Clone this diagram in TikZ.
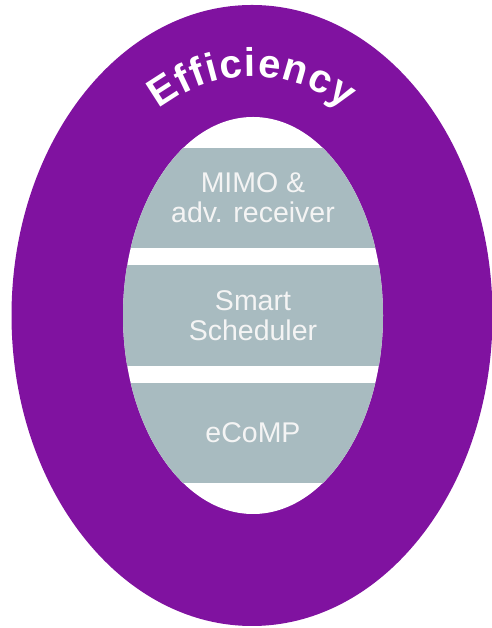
\documentclass[tikz,border=0pt]{standalone}
\usepackage{fontspec}
\setmainfont{Liberation Sans}
\definecolor{ringpurple}{RGB}{128,18,160}
\definecolor{bandgray}{RGB}{168,187,192}
\definecolor{labelwhite}{RGB}{244,244,244}
\tikzset{
  bandlabel/.style={text=labelwhite, align=center, inner sep=0pt,
    font=\fontsize{28.5}{30}\selectfont},
  bandfill/.style={fill=bandgray},
  titleletter/.style={text=white, inner sep=0pt, anchor=base,
    font=\bfseries\fontsize{40}{40}\selectfont}
}
\begin{document}
\begin{tikzpicture}[x=1pt,y=1pt]
  \useasboundingbox (0,0) rectangle (491,628);
  % outer ring and inner white core
  \fill[ringpurple] (252,312.5) ellipse [x radius=240.5, y radius=310.5];
  \fill[white] (253,312.5) ellipse [x radius=130, y radius=198.5];
  % three grey layers, trimmed to the core
  \begin{scope}
    \clip (253,312.5) ellipse [x radius=130, y radius=198.5];
    \fill[bandfill] (100,380) rectangle (400,480);
    \fill[bandfill] (100,262) rectangle (400,363);
    \fill[bandfill] (100,145) rectangle (400,245);
  \end{scope}
  \node[bandlabel] (mimo) at (253,430) {MIMO \&\\adv. receiver};
  \node[bandlabel] (sched) at (253,312.5) {Smart\\Scheduler};
  \node[bandlabel] (ecomp) at (253,195) {eCoMP};
  % curved title: each letter sits on an ellipse and follows its tangent
  \begin{scope}[shift={(252,312.5)}]
    \foreach \t/\r/\ch [count=\k] in {
        116.43/32.70/E, 110.18/25.40/f, 105.73/19.99/f, 101.61/14.86/i,
        96.05/7.80/c, 90.48/0.62/i, 84.91/-6.57/e, 77.32/-16.21/n,
        69.84/-25.38/c, 62.93/-33.44/y}
      \node[titleletter, rotate=\r] (title\k) at (\t:185 and 239) {\ch};
  \end{scope}
\end{tikzpicture}
\end{document}
